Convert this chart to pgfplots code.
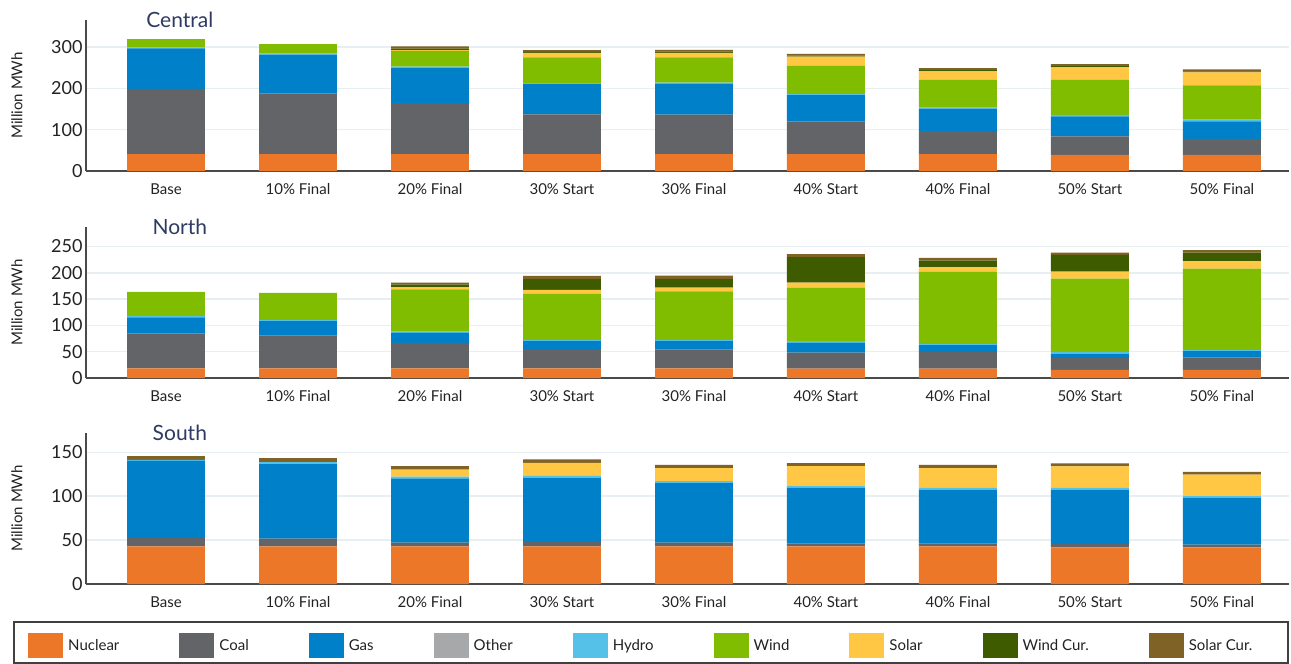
\documentclass[border=0pt]{standalone}
\usepackage{fontspec}
\setmainfont{Lato}
\usepackage{pgfplots}
\usepackage{pgfplotstable}
\pgfplotsset{compat=1.18}

\definecolor{cNuc}{HTML}{ED7728}
\definecolor{cCoal}{HTML}{636467}
\definecolor{cGas}{HTML}{0080C8}
\definecolor{cOth}{HTML}{A7A8A9}
\definecolor{cHyd}{HTML}{55C0E8}
\definecolor{cWind}{HTML}{80BC00}
\definecolor{cSol}{HTML}{FFC744}
\definecolor{cWc}{HTML}{3F5B00}
\definecolor{cSc}{HTML}{7F6225}
\definecolor{axisc}{HTML}{4A4A4A}
\definecolor{gridc}{HTML}{E8EFF2}
\definecolor{titlec}{HTML}{2E3A62}
\definecolor{textc}{HTML}{222222}

% generation by scenario, million MWh
\pgfplotstableread{
x nuc coal gas oth hyd wind sol wc sc
0 40.5 158.0 98.0 0 2.5 19.5 0 0 0
1 40.5 147.0 94.0 0 2.5 22.5 0 0 0
2 40.5 123.3 86.0 0 2.4 38.1 2.0 3.5 5.5
3 40.5 96.5 73.0 0 2.5 62.0 11.0 2.5 4.0
4 40.5 95.7 74.7 0 3.0 61.0 10.5 3.0 4.3
5 40.5 78.7 64.1 0 3.2 68.2 21.9 2.5 3.9
6 40.5 56.0 54.5 0 2.0 67.6 20.3 3.0 5.0
7 39.0 44.5 48.5 0 3.4 85.2 30.0 3.0 5.0
8 39.0 38.9 42.1 0 4.0 82.8 31.6 2.5 4.8
}\central

\pgfplotstableread{
x nuc coal gas oth hyd wind sol wc sc
0 18.5 66.0 30.5 0 2.5 46.0 0 0 0
1 18.5 62.5 27.0 0 2.5 51.5 0 0 0
2 18.5 48.3 19.0 0 2.5 80.3 3.8 5.0 3.8
3 18.5 36.2 15.3 0 2.5 87.2 7.6 20.5 6.2
4 18.5 35.5 16.0 0 2.5 92.3 7.0 16.3 6.3
5 17.8 30.5 18.5 0 3.2 101.8 9.5 48.5 5.7
6 17.8 31.2 13.3 0 2.6 136.8 8.9 12.7 5.1
7 15.3 22.9 8.2 0 2.6 140.0 13.3 31.8 4.4
8 15.3 24.1 11.5 0 2.5 154.6 14.0 16.5 4.5
}\north

\pgfplotstableread{
x nuc coal gas oth hyd wind sol wc sc
0 42.8 9.6 88.0 0 1.0 0 0 0 4.4
1 42.8 8.8 85.0 0 2.3 0 0 0 4.6
2 42.8 4.2 72.7 0 2.7 0 8.0 0 3.9
3 42.8 5.0 72.7 0 2.7 0 14.9 0 3.8
4 42.8 4.2 67.8 0 2.3 0 14.9 0 3.8
5 42.8 3.5 63.5 0 2.2 0 22.3 0 3.5
6 42.8 3.5 61.2 0 1.9 0 22.6 0 3.8
7 41.7 3.8 62.0 0 1.9 0 24.5 0 3.4
8 41.7 3.1 53.5 0 1.9 0 24.5 0 3.1
}\south

\newcommand{\stackplots}[1]{%
  \addplot[fill=cNuc] table[x=x,y=nuc]{#1};
  \addplot[fill=cCoal] table[x=x,y=coal]{#1};
  \addplot[fill=cGas] table[x=x,y=gas]{#1};
  \addplot[fill=cOth] table[x=x,y=oth]{#1};
  \addplot[fill=cHyd] table[x=x,y=hyd]{#1};
  \addplot[fill=cWind] table[x=x,y=wind]{#1};
  \addplot[fill=cSol] table[x=x,y=sol]{#1};
  \addplot[fill=cWc] table[x=x,y=wc]{#1};
  \addplot[fill=cSc] table[x=x,y=sc]{#1};
}

\pgfplotsset{
  mixpanel/.style={
    scale only axis, width=1203pt, height=151pt,
    clip=false,
    ybar stacked, bar width=0.59,
    xmin=-0.606, xmax=8.508, ymin=0,
    xtick={0,...,8},
    xticklabels={Base,10\% Final,20\% Final,30\% Start,30\% Final,40\% Start,40\% Final,50\% Start,50\% Final},
    axis x line*=bottom, axis y line*=left,
    axis line style={draw=axisc, line width=1.5pt},
    major tick length=0pt,
    ymajorgrids, grid style={draw=gridc, line width=1.5pt},
    /pgf/number format/assume math mode=true,
    yticklabel style={font=\fontsize{18}{20}\selectfont, text=textc},
    xticklabel style={font=\fontsize{15}{18}\selectfont, text=textc, yshift=-9pt},
    ylabel={Million MWh},
    every axis y label/.style={at={(axis description cs:-0.0574,0.5)}, rotate=90, anchor=center, font=\fontsize{15}{18}\selectfont, text=textc},
    every axis plot/.append style={draw=none},
  },
}

\begin{document}
\begin{tikzpicture}
\useasboundingbox (0pt,0pt) rectangle (1291pt,-664pt);

\begin{axis}[mixpanel, at={(86pt,-171pt)}, anchor=south west,
  ymax=365, ytick={0,100,200,300}]
  \stackplots{\central}
  \node[font=\fontsize{21}{25}\selectfont, text=titlec] at (rel axis cs:0.078,1) {Central};
\end{axis}

\begin{axis}[mixpanel, at={(86pt,-378pt)}, anchor=south west,
  ymax=287, ytick={0,50,100,150,200,250}]
  \stackplots{\north}
  \node[font=\fontsize{21}{25}\selectfont, text=titlec] at (rel axis cs:0.078,1) {North};
\end{axis}

\begin{axis}[mixpanel, at={(86pt,-584pt)}, anchor=south west,
  ymax=172, ytick={0,50,100,150},
  legend entries={Nuclear,Coal,Gas,Other,Hydro,Wind,Solar,Wind Cur.,Solar Cur.},
  legend columns=9,
  legend image code/.code={\fill[#1] (0pt,-12.5pt) rectangle (35pt,12.5pt); \path (38pt,0pt);},
  legend style={draw=none, fill=none, at={(axis description cs:-0.0507,-0.407)}, anchor=west,
    font=\fontsize{15}{18}\selectfont, text=textc,
    /tikz/every even column/.append style={column sep=58pt}},
  legend cell align=left]
  \stackplots{\south}
  \node[font=\fontsize{21}{25}\selectfont, text=titlec] at (rel axis cs:0.078,1) {South};
\end{axis}

\draw[draw=black!75, line width=1.5pt] (14pt,-622pt) rectangle (1288pt,-663pt);
\end{tikzpicture}
\end{document}
